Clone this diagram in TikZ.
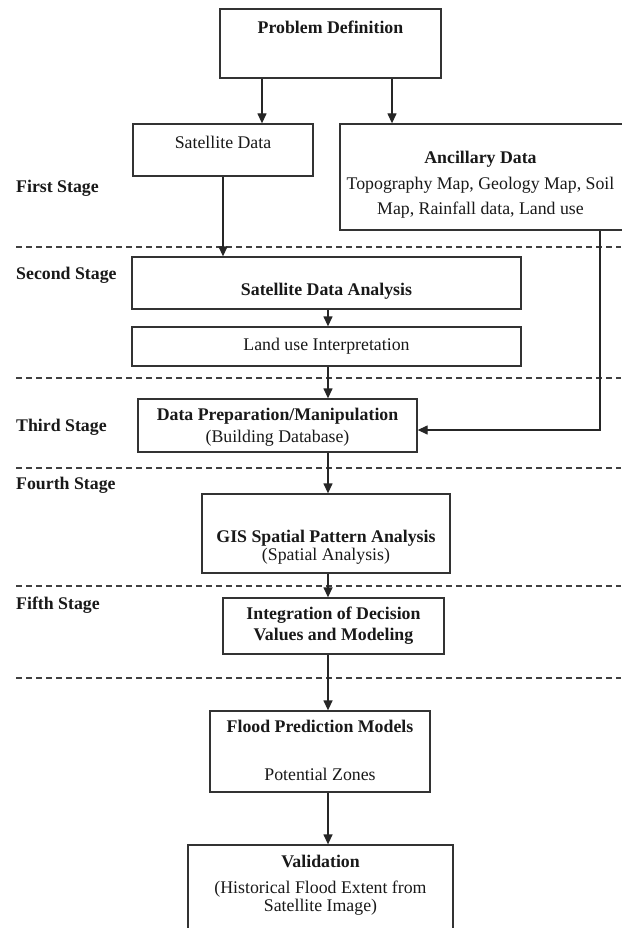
\documentclass[tikz,border=0pt]{standalone}
\usepackage{fontspec}
\setmainfont{Liberation Serif}
\usetikzlibrary{arrows.meta,positioning}

\newcommand{\chartfont}{\fontsize{17.8}{21}\selectfont}

\begin{document}
\begin{tikzpicture}[x=1pt,y=-1pt]
    \tikzstyle{every node}+=[inner sep=0pt]
    \tikzstyle{box}=[draw=black!80, line width=1.3pt, rectangle]
    \tikzstyle{txt}=[font=\chartfont, text=black!90, align=center]
    \tikzstyle{stagelbl}=[font=\chartfont\bfseries, text=black!90, anchor=west]
    \tikzstyle{sep}=[black!75, line width=1.2pt, dash pattern=on 6pt off 4pt]
    \tikzstyle{arr}=[black!85, line width=1.3pt, -{Triangle[length=10pt,width=9pt]}]
    \fill[white] (0,0) rectangle (621,928);
    \useasboundingbox (0,0) rectangle (621,928);
    % column that the main arrows follow
    \coordinate (axis) at (328,0);
    % stage separators and labels
    \foreach \y in {247,378,468,586,678}
        \draw[sep] (16,\y) -- (621,\y);
    \foreach \lbl/\y in {First/188,Second/275,Third/427,Fourth/485,Fifth/605}
        \node[stagelbl] (\lbl) at (16,\y) {\lbl\ Stage};
    % boxes
    \node[box, minimum width=221, minimum height=69] (prob) at (330.5,43.5) {};
    \node[txt, font=\chartfont\bfseries] at ([yshift=-19pt]prob.north) {Problem  Definition};
    \node[box, minimum width=180, minimum height=52] (sat) at (223,150) {};
    \node[txt] at ([yshift=-19pt]sat.north) {Satellite Data};
    \node[box, minimum width=285, minimum height=106] (anc) at (482.5,177) {};
    \node[txt] at ([xshift=-2pt,yshift=-61.5pt]anc.north) {\textbf{Ancillary Data}\\[4.5pt]
        Topography Map, Geology Map, Soil\\[4.5pt] Map, Rainfall data, Land use};
    \node[box, minimum width=389, minimum height=52] (sda) at (326.5,283) {};
    \node[txt, font=\chartfont\bfseries] at ([yshift=-35pt]sda.north) {Satellite Data Analysis};
    \node[box, txt, minimum width=389, minimum height=39] (lui) at (326.5,346.5) {Land use Interpretation};
    \node[box, minimum width=279, minimum height=53] (dpm) at (277.5,425.5) {};
    \node[txt] at ([yshift=-29pt]dpm.north) {\textbf{Data Preparation/Manipulation}\\[1pt] (Building Database)};
    \node[box, minimum width=248, minimum height=79] (gis) at (326,533.5) {};
    \node[txt] at ([yshift=-54pt]gis.north) {\textbf{GIS Spatial Pattern Analysis}\\[-3pt] (Spatial Analysis)};
    \node[box, txt, font=\chartfont\bfseries, minimum width=221, minimum height=56] (idm) at (333.5,626)
        {Integration of Decision\\ Values and Modeling};
    \node[box, minimum width=220, minimum height=81] (fpm) at (320,751.5) {};
    \node[txt, font=\chartfont\bfseries] at ([yshift=-16pt]fpm.north) {Flood Prediction Models};
    \node[txt] at ([yshift=-64pt]fpm.north) {Potential Zones};
    \node[box, minimum width=265, minimum height=88] (val) at (320.5,889) {};
    \node[txt, font=\chartfont\bfseries] at ([yshift=-17pt]val.north) {Validation};
    \node[txt] at ([yshift=-54pt]val.north) {(Historical Flood Extent from\\[-3pt] Satellite Image)};
    % connectors
    \draw[arr] ([xshift=-68.5pt]prob.south) -- ([xshift=-68.5pt]prob.south |- sat.north);
    \draw[arr] ([xshift=61.5pt]prob.south) -- ([xshift=61.5pt]prob.south |- anc.north);
    \draw[arr] (sat.south) -- (sat.south |- sda.north);
    \draw[arr] (sda.south -| axis) -- (lui.north -| axis);
    \draw[arr] (lui.south -| axis) -- (dpm.north -| axis);
    \draw[arr] (dpm.south -| axis) -- (gis.north -| axis);
    \draw[arr] (gis.south -| axis) -- (idm.north -| axis);
    \draw[arr] (idm.south -| axis) -- (fpm.north -| axis);
    \draw[arr] (fpm.south -| axis) -- (val.north -| axis);
    \draw[arr] ([xshift=117.5pt]anc.south) |- ([yshift=-4.5pt]dpm.east);
\end{tikzpicture}
\end{document}
